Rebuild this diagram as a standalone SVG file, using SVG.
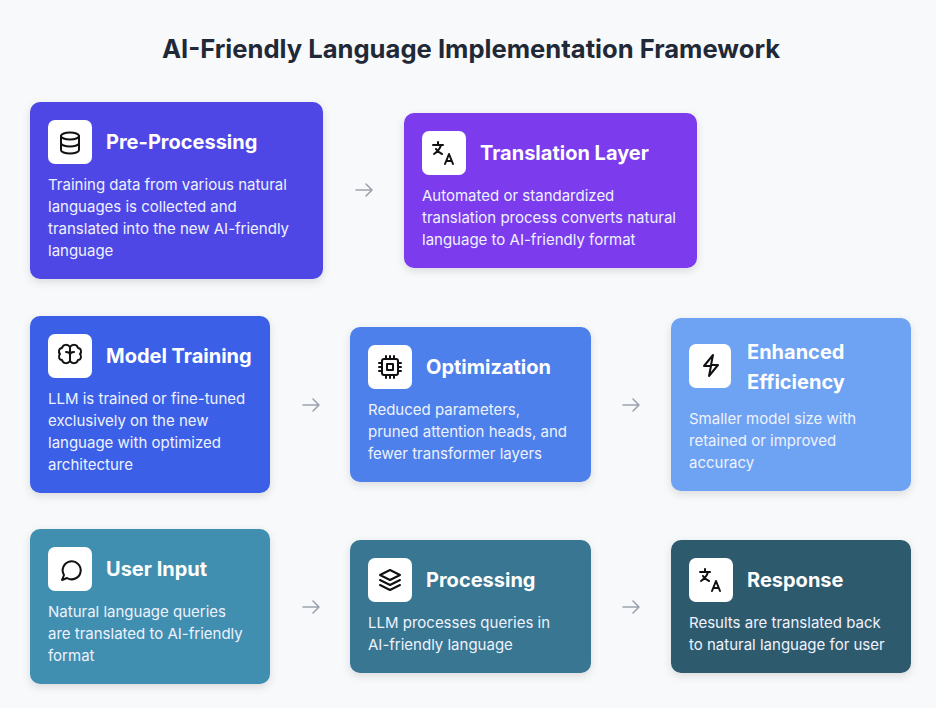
<svg xmlns="http://www.w3.org/2000/svg" width="936" height="708" viewBox="0 0 936 708">
<style>
text{font-family:Inter,"Liberation Sans",sans-serif}
.t{font-size:20px;font-weight:700;fill:#fff}
.b{font-size:15px;fill:#eef2ff}
.ib{fill:#fff}
.ic{fill:none;stroke:#111;stroke-width:2;stroke-linecap:round;stroke-linejoin:round}
.ar{fill:none;stroke:#9ca3af;stroke-width:1.6;stroke-linecap:round;stroke-linejoin:round}
</style>
<defs><filter id="sh" x="-10%" y="-10%" width="120%" height="130%"><feDropShadow dx="0" dy="3" stdDeviation="4" flood-color="#000" flood-opacity="0.12"/></filter></defs>
<rect width="936" height="708" fill="#f8f9fb"/>
<text x="471" y="58" text-anchor="middle" style="font-size:25.6px;font-weight:700;fill:#1f2937">AI-Friendly Language Implementation Framework</text>
<g id="connectors">
<path class="ar" d="M356 190h16M366 184l6 6-6 6"/>
<path class="ar" d="M303 405h16M313 399l6 6-6 6"/>
<path class="ar" d="M623 405h16M633 399l6 6-6 6"/>
<path class="ar" d="M303 607h16M313 601l6 6-6 6"/>
<path class="ar" d="M623 607h16M633 601l6 6-6 6"/>
</g>
<g id="pre">
<rect x="30" y="102" width="293" height="177" rx="10" fill="#4f46e5" filter="url(#sh)"/>
<rect class="ib" x="48" y="120" width="44" height="44" rx="7"/>
<g class="ic"><ellipse cx="70" cy="136" rx="9" ry="3.5"/><path d="M61 136v14c0 2 4 3.5 9 3.5s9-1.5 9-3.5v-14M61 143c0 2 4 3.5 9 3.5s9-1.5 9-3.5"/></g>
<text class="t" x="106" y="149">Pre-Processing</text>
<text class="b" x="48" y="190">Training data from various natural</text>
<text class="b" x="48" y="212">languages is collected and</text>
<text class="b" x="48" y="234">translated into the new AI-friendly</text>
<text class="b" x="48" y="256">language</text>
</g>
<g id="translation">
<rect x="404" y="113" width="293" height="155" rx="10" fill="#7c3aed" filter="url(#sh)"/>
<rect class="ib" x="422" y="131" width="44" height="44" rx="7"/>
<g class="ic" stroke-width="1.8"><path d="M433 145h10M438 142v3M441 145c-1 4-4 7-7 9M436 149c1 2 4 4 6 5M445 164l4-10 4 10M446.5 161h5"/></g>
<text class="t" x="480" y="160">Translation Layer</text>
<text class="b" x="422" y="201">Automated or standardized</text>
<text class="b" x="422" y="223">translation process converts natural</text>
<text class="b" x="422" y="245">language to AI-friendly format</text>
</g>
<g id="model">
<rect x="30" y="316" width="240" height="177" rx="10" fill="#3b5ee6" filter="url(#sh)"/>
<rect class="ib" x="48" y="334" width="44" height="44" rx="7"/>
<g class="ic" stroke-width="1.8"><path d="M70 347c-2-3-7-3-8 1-3 0-4 4-2 6-2 2-1 6 2 6 1 4 6 4 8 1zM70 347c2-3 7-3 8 1 3 0 4 4 2 6 2 2 1 6-2 6-1 4-6 4-8 1zM70 347v14M66 352c2 0 4 1 4 3M74 352c-2 0-4 1-4 3"/></g>
<text class="t" x="106" y="363">Model Training</text>
<text class="b" x="48" y="404">LLM is trained or fine-tuned</text>
<text class="b" x="48" y="426">exclusively on the new</text>
<text class="b" x="48" y="448">language with optimized</text>
<text class="b" x="48" y="470">architecture</text>
</g>
<g id="optimization">
<rect x="350" y="327" width="241" height="155" rx="10" fill="#4e80ea" filter="url(#sh)"/>
<rect class="ib" x="368" y="345" width="44" height="44" rx="7"/>
<g class="ic" stroke-width="1.8"><rect x="382" y="359" width="16" height="16" rx="2"/><rect x="387" y="364" width="6" height="6"/><path d="M386 356v3M390 356v3M394 356v3M386 375v3M390 375v3M394 375v3M379 363h3M379 367h3M379 371h3M398 363h3M398 367h3M398 371h3"/></g>
<text class="t" x="426" y="374">Optimization</text>
<text class="b" x="368" y="415">Reduced parameters,</text>
<text class="b" x="368" y="437">pruned attention heads, and</text>
<text class="b" x="368" y="459">fewer transformer layers</text>
</g>
<g id="efficiency">
<rect x="671" y="318" width="240" height="173" rx="10" fill="#6ea2f2" filter="url(#sh)"/>
<rect class="ib" x="689" y="344" width="42" height="44" rx="7"/>
<g class="ic" stroke-width="1.8"><path d="M713 355l-9 11h7l-2 10 9-11h-7z"/></g>
<text class="t" x="747" y="359">Enhanced</text>
<text class="t" x="747" y="389">Efficiency</text>
<text class="b" x="689" y="424">Smaller model size with</text>
<text class="b" x="689" y="446">retained or improved</text>
<text class="b" x="689" y="468">accuracy</text>
</g>
<g id="userinput">
<rect x="30" y="529" width="240" height="155" rx="10" fill="#3f8fb0" filter="url(#sh)"/>
<rect class="ib" x="48" y="547" width="44" height="44" rx="7"/>
<g class="ic" stroke-width="1.8"><path d="M62 580l2-5a9 9 0 1 1 3 3z"/></g>
<text class="t" x="106" y="576">User Input</text>
<text class="b" x="48" y="617">Natural language queries</text>
<text class="b" x="48" y="639">are translated to AI-friendly</text>
<text class="b" x="48" y="661">format</text>
</g>
<g id="processing">
<rect x="350" y="540" width="241" height="133" rx="10" fill="#377691" filter="url(#sh)"/>
<rect class="ib" x="368" y="558" width="44" height="44" rx="7"/>
<g class="ic" stroke-width="1.8"><path d="M390 570l10 5-10 5-10-5zM380 580l10 5 10-5M380 585l10 5 10-5"/></g>
<text class="t" x="426" y="587">Processing</text>
<text class="b" x="368" y="628">LLM processes queries in</text>
<text class="b" x="368" y="650">AI-friendly language</text>
</g>
<g id="response">
<rect x="671" y="540" width="240" height="133" rx="10" fill="#2d5a6e" filter="url(#sh)"/>
<rect class="ib" x="689" y="558" width="44" height="44" rx="7"/>
<g class="ic" stroke-width="1.8"><path d="M700 572h10M705 569v3M708 572c-1 4-4 7-7 9M703 576c1 2 4 4 6 5M712 591l4-10 4 10M713.5 588h5"/></g>
<text class="t" x="747" y="587">Response</text>
<text class="b" x="689" y="628">Results are translated back</text>
<text class="b" x="689" y="650">to natural language for user</text>
</g>
</svg>
